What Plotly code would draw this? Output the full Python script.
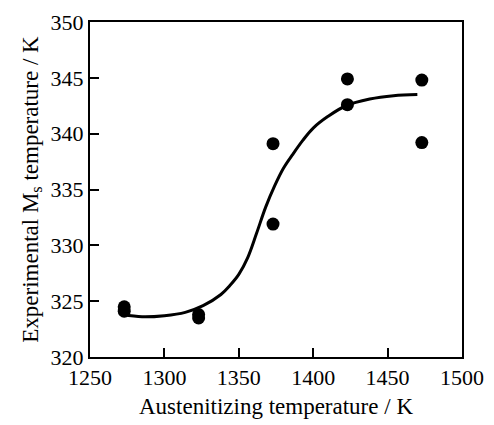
import plotly.graph_objects as go

# measured points
pt_x = [1273, 1273, 1323, 1323, 1373, 1373, 1423, 1423, 1473, 1473]
pt_y = [324.5, 324.1, 323.5, 323.8, 339.1, 331.9, 344.9, 342.6, 344.8, 339.2]

# fitted curve
curve_x = [1272, 1285, 1300, 1314, 1326, 1338, 1344, 1350, 1356, 1362, 1368,
           1374, 1380, 1386, 1393, 1400, 1410, 1422, 1438, 1454, 1470]
curve_y = [323.8, 323.6, 323.7, 324.0, 324.6, 325.6, 326.4, 327.4, 328.9, 331.1, 333.4,
           335.3, 336.9, 338.1, 339.4, 340.5, 341.55, 342.5, 343.1, 343.4, 343.5]

x_ticks = [1250, 1300, 1350, 1400, 1450, 1500]
y_ticks = [320, 325, 330, 335, 340, 345, 350]

font = "Liberation Serif, Times New Roman, serif"

fig = go.Figure()
fig.add_trace(go.Scatter(x=curve_x, y=curve_y, mode="lines",
                         line=dict(color="black", width=3, shape="spline", smoothing=1.0),
                         showlegend=False, hoverinfo="skip"))
fig.add_trace(go.Scatter(x=pt_x, y=pt_y, mode="markers",
                         marker=dict(color="black", size=13),
                         showlegend=False))

axis_common = dict(showgrid=False, zeroline=False, showline=True, linecolor="black",
                   linewidth=2, mirror=True, ticks="inside", ticklen=9, tickwidth=2,
                   tickcolor="black", ticklabeloverflow="allow",
                   tickfont=dict(family=font, size=22, color="black"))

fig.update_xaxes(range=[1250, 1500], tickvals=x_ticks, ticktext=[str(v) for v in x_ticks],
                 title=dict(text="Austenitizing temperature / K",
                            font=dict(family=font, size=23, color="black"), standoff=8),
                 **axis_common)
fig.update_yaxes(range=[320, 350], tickvals=y_ticks, ticktext=[str(v) for v in y_ticks],
                 title=dict(text="Experimental M<sub>s</sub> temperature / K",
                            font=dict(family=font, size=23, color="black"), standoff=6),
                 **axis_common)

fig.update_layout(width=494, height=425, margin=dict(l=90, r=29, t=10, b=66),
                  paper_bgcolor="white", plot_bgcolor="white")

fig.write_html("out.html")
